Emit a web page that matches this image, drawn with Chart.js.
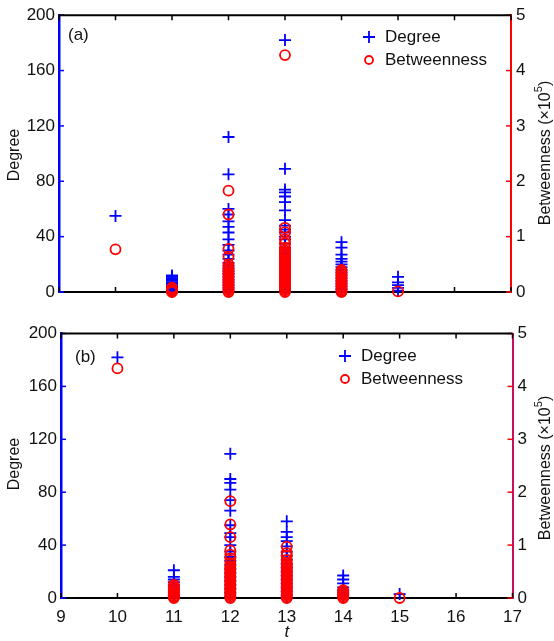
<!DOCTYPE html>
<html>
<head>
<meta charset="utf-8">
<script src="https://cdn.jsdelivr.net/npm/chart.js@4.4.0/dist/chart.umd.min.js"></script>
<style>
html, body { margin: 0; padding: 0; background: #fff; }
#wrap { position: relative; width: 554px; height: 641px; }
#wrap canvas { position: absolute; left: 0; }
</style>
</head>
<body>
<div id="wrap">
  <canvas id="panelA" width="554" height="310" style="top:0"></canvas>
  <canvas id="panelB" width="554" height="331" style="top:310px"></canvas>
</div>
<script>
// time steps that carry points, and the tick values of each axis
const tValues = [10, 11, 12, 13, 14, 15];
const xTicks = [9, 10, 11, 12, 13, 14, 15, 16, 17];
const degreeTicks = [0, 40, 80, 120, 160, 200];
const betweenTicks = [0, 1, 2, 3, 4, 5];

// panel (a): one list of node values per time step
const degreeA = [
  [55],
  [12, 11, 10, 9, 8, 7, 6, 5, 4, 3, 2, 1, 0],
  [112, 85, 60, 56, 51, 47, 43, 38, 34, 30, 27, 24, 21, 19, 17, 15, 13, 11, 9, 7, 5, 3, 1],
  [182, 89, 74, 72, 69, 65, 59, 52, 48, 45, 43, 40, 38, 35, 32, 30, 28, 25, 22, 19, 16, 13, 10, 7, 4, 1],
  [36, 32, 27, 24, 22, 20, 18, 16, 14, 12, 10, 8, 6, 4, 2],
  [11, 7, 5, 3, 1]
];
// betweenness in units of 1e5
const betweenA = [
  [0.77],
  [0.08, 0.06, 0.04, 0.02, 0.01, 0],
  [1.83, 1.40, 0.78, 0.64, 0.50, 0.45, 0.42, 0.39, 0.36, 0.33, 0.30, 0.27, 0.24, 0.21, 0.18,
   0.15, 0.12, 0.09, 0.06, 0.03, 0],
  [4.28, 1.16, 1.08, 0.95, 0.88, 0.80, 0.75, 0.72, 0.69, 0.66, 0.63, 0.60, 0.57, 0.54, 0.51,
   0.48, 0.45, 0.42, 0.39, 0.36, 0.33, 0.30, 0.27, 0.24, 0.21, 0.18, 0.15, 0.12, 0.09, 0.06, 0.03, 0],
  [0.40, 0.37, 0.34, 0.31, 0.28, 0.25, 0.22, 0.19, 0.16, 0.13, 0.10, 0.07, 0.04, 0.02, 0],
  [0.01]
];

// panel (b)
const degreeB = [
  [182],
  [21, 16, 14, 12, 10, 8, 6, 4, 2, 1],
  [109, 90, 87, 82, 74, 66, 55, 49, 46, 40, 35, 31, 28, 25, 22, 19, 16, 13, 10, 7, 4, 1],
  [58, 50, 46, 43, 39, 35, 32, 29, 26, 23, 20, 17, 14, 11, 8, 5, 2],
  [17, 14, 11, 8, 6, 4, 2],
  [3]
];
const betweenB = [
  [4.34],
  [0.25, 0.22, 0.19, 0.16, 0.13, 0.10, 0.07, 0.04, 0.02, 0],
  [1.83, 1.39, 1.15, 0.90, 0.82, 0.75, 0.66, 0.60, 0.57, 0.54, 0.51, 0.48, 0.45, 0.42, 0.39,
   0.36, 0.33, 0.30, 0.27, 0.24, 0.21, 0.18, 0.15, 0.12, 0.09, 0.06, 0.03, 0],
  [0.97, 0.85, 0.80, 0.72, 0.66, 0.63, 0.60, 0.57, 0.54, 0.51, 0.48, 0.45, 0.42, 0.39, 0.36,
   0.33, 0.30, 0.27, 0.24, 0.21, 0.18, 0.15, 0.12, 0.09, 0.06, 0.03, 0],
  [0.15, 0.12, 0.09, 0.06, 0.03, 0],
  [0]
];

const BLUE = '#0000ff';
const RED = '#ff0000';
const FONT = '"Liberation Sans", Arial, sans-serif';

function toPoints(lists) {
  const pts = [];
  lists.forEach((vals, i) => vals.forEach(v => pts.push({x: tValues[i], y: v})));
  return pts;
}

function drawCross(ctx, x, y, r) {
  ctx.beginPath();
  ctx.moveTo(x - r, y); ctx.lineTo(x + r, y);
  ctx.moveTo(x, y - r); ctx.lineTo(x, y + r);
  ctx.stroke();
}

function panelDecor(cfg) {
  return {
    id: 'decor',
    beforeDatasetsDraw(chart) {
      const {ctx, chartArea: a, scales} = chart;
      ctx.save();
      ctx.lineWidth = 1.5;
      ctx.strokeStyle = '#000';
      xTicks.forEach(v => {
        const px = scales.x.getPixelForValue(v);
        ctx.beginPath();
        ctx.moveTo(px, a.bottom); ctx.lineTo(px, a.bottom - 5);
        ctx.moveTo(px, a.top); ctx.lineTo(px, a.top + 5);
        ctx.stroke();
      });
      ctx.strokeStyle = BLUE;
      degreeTicks.forEach(v => {
        const py = scales.y.getPixelForValue(v);
        ctx.beginPath(); ctx.moveTo(a.left, py); ctx.lineTo(a.left + 5, py); ctx.stroke();
      });
      ctx.strokeStyle = RED;
      betweenTicks.forEach(v => {
        const py = scales.y2.getPixelForValue(v);
        ctx.beginPath(); ctx.moveTo(a.right - 5, py); ctx.lineTo(a.right, py); ctx.stroke();
      });
      // top frame line
      ctx.strokeStyle = '#000';
      ctx.lineWidth = 2;
      ctx.beginPath(); ctx.moveTo(a.left, a.top); ctx.lineTo(a.right, a.top); ctx.stroke();
      ctx.restore();
    },
    afterDraw(chart) {
      const {ctx} = chart;
      ctx.save();
      ctx.fillStyle = '#111';
      ctx.textBaseline = 'middle';
      ctx.textAlign = 'left';
      ctx.font = '17px ' + FONT;
      ctx.fillText(cfg.label, cfg.labelX, cfg.labelY);

      // legend
      ctx.lineWidth = 1.8;
      ctx.strokeStyle = BLUE;
      drawCross(ctx, cfg.legX, cfg.legY, 6);
      ctx.strokeStyle = RED;
      ctx.beginPath(); ctx.arc(cfg.legX, cfg.legY + 23, 4, 0, Math.PI * 2); ctx.stroke();
      ctx.fillText('Degree', cfg.legX + 16, cfg.legY);
      ctx.fillText('Betweenness', cfg.legX + 16, cfg.legY + 23);

      // left axis title
      ctx.textAlign = 'center';
      ctx.font = '16px ' + FONT;
      ctx.translate(15, cfg.leftTitleY);
      ctx.rotate(-Math.PI / 2);
      ctx.fillText('Degree', 0, 0);
      ctx.setTransform(1, 0, 0, 1, 0, 0);

      // right axis title with superscript exponent
      ctx.translate(546, cfg.rightTitleY);
      ctx.rotate(-Math.PI / 2);
      ctx.textAlign = 'left';
      const main = 'Betweenness (\u00d710';
      ctx.font = '16px ' + FONT;
      const wMain = ctx.measureText(main).width;
      const wClose = ctx.measureText(')').width;
      ctx.font = '11px ' + FONT;
      const wSup = ctx.measureText('5').width;
      let x0 = -(wMain + wSup + wClose) / 2;
      ctx.font = '16px ' + FONT;
      ctx.fillText(main, x0, 0);
      ctx.font = '11px ' + FONT;
      ctx.fillText('5', x0 + wMain, -7);
      ctx.font = '16px ' + FONT;
      ctx.fillText(')', x0 + wMain + wSup, 0);
      ctx.setTransform(1, 0, 0, 1, 0, 0);

      if (cfg.xTitle) {
        ctx.font = 'italic 17px ' + FONT;
        ctx.textAlign = 'center';
        ctx.fillText('t', chart.scales.x.getPixelForValue(13), cfg.xTitleY);
      }
      ctx.restore();
    }
  };
}

function makePanel(id, degree, between, cfg) {
  const tickFont = {family: FONT, size: 17};
  return new Chart(document.getElementById(id), {
    type: 'scatter',
    data: {
      datasets: [{
        label: 'Degree',
        data: toPoints(degree),
        yAxisID: 'y',
        pointStyle: 'cross',
        pointRadius: 6,
        pointBorderWidth: 1.8,
        borderColor: BLUE,
        backgroundColor: BLUE,
        order: 1,
        clip: false
      }, {
        label: 'Betweenness',
        data: toPoints(between),
        yAxisID: 'y2',
        pointStyle: 'circle',
        pointRadius: 5,
        pointBorderWidth: 1.8,
        borderColor: RED,
        backgroundColor: 'rgba(0,0,0,0)',
        order: 0,
        clip: false
      }]
    },
    options: {
      responsive: false,
      animation: false,
      layout: {padding: {top: cfg.padTop, left: 0, right: 0, bottom: 0}},
      plugins: {legend: {display: false}, tooltip: {enabled: false}},
      scales: {
        x: {
          type: 'linear',
          min: 9, max: 17,
          afterBuildTicks: s => { s.ticks = xTicks.map(v => ({value: v})); },
          afterFit: s => { s.height = cfg.xHeight; },
          grid: {display: false, drawTicks: false},
          border: {display: true, color: '#000', width: 2},
          ticks: {display: cfg.showX, font: tickFont, color: '#111', padding: 9, maxRotation: 0}
        },
        y: {
          position: 'left',
          min: 0, max: 200,
          afterBuildTicks: s => { s.ticks = degreeTicks.map(v => ({value: v})); },
          afterFit: s => { s.width = cfg.leftW; },
          grid: {display: false, drawTicks: false},
          border: {display: true, color: BLUE, width: 2.5},
          ticks: {font: tickFont, color: '#111', padding: 4}
        },
        y2: {
          position: 'right',
          min: 0, max: 5,
          afterBuildTicks: s => { s.ticks = betweenTicks.map(v => ({value: v})); },
          afterFit: s => { s.width = cfg.rightW; },
          grid: {display: false, drawTicks: false},
          border: {display: true, color: cfg.rightColor, width: 2},
          ticks: {font: tickFont, color: '#111', padding: 5}
        }
      }
    },
    plugins: [panelDecor(cfg)]
  });
}

makePanel('panelA', degreeA, betweenA, {
  padTop: 15, xHeight: 18, leftW: 59, rightW: 43, showX: false,
  rightColor: RED, label: '(a)', labelX: 68, labelY: 35,
  legX: 369, legY: 37, leftTitleY: 155, rightTitleY: 153
});

makePanel('panelB', degreeB, betweenB, {
  padTop: 23.5, xHeight: 43, leftW: 61, rightW: 41.5, showX: true,
  rightColor: '#c8105a', label: '(b)', labelX: 75, labelY: 47,
  legX: 345, legY: 46, leftTitleY: 154, rightTitleY: 158,
  xTitle: true, xTitleY: 322
});
</script>
</body>
</html>
